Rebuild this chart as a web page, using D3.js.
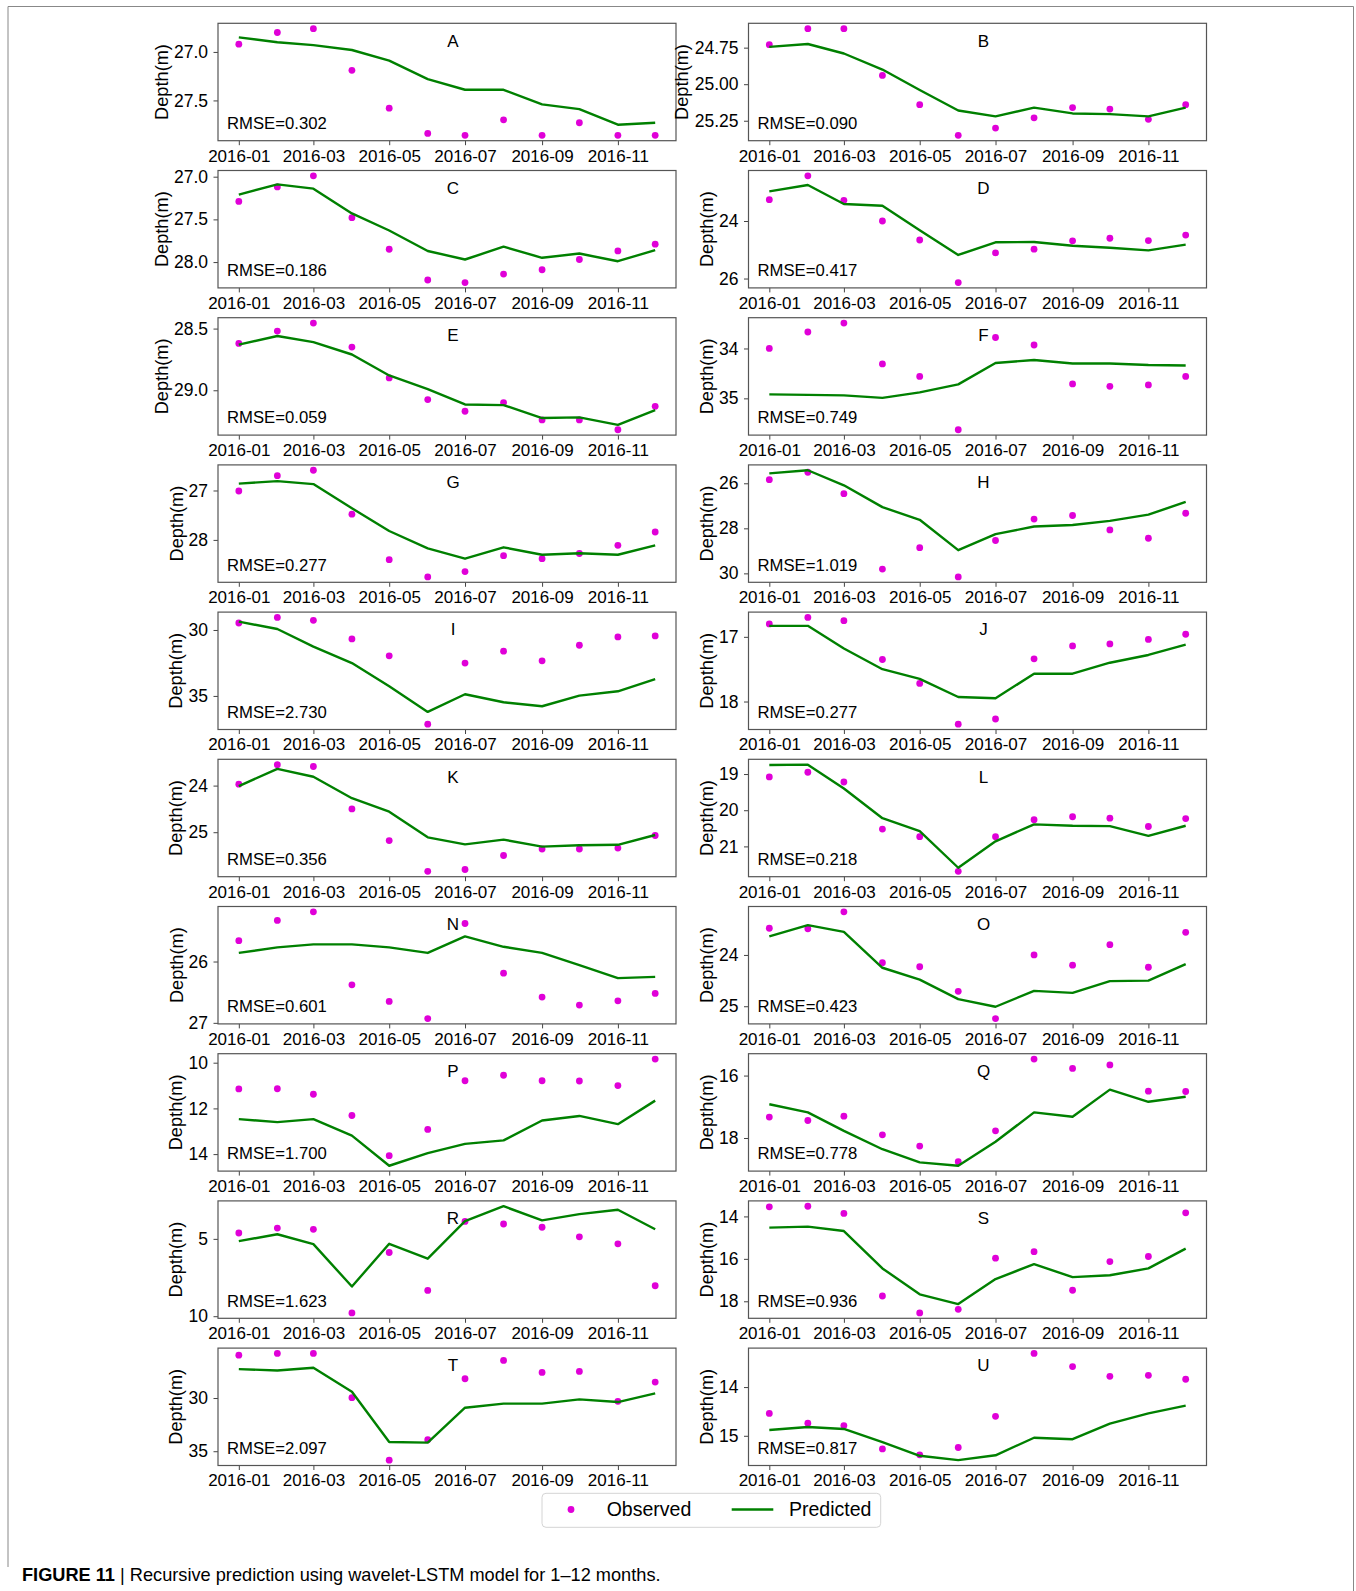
<!DOCTYPE html>
<html>
<head>
<meta charset="utf-8">
<script src="https://cdn.jsdelivr.net/npm/d3@7"></script>
<style>
  body { margin: 0; background: #fff; }
  text { font-family: "Liberation Sans", Arial, sans-serif; }
</style>
</head>
<body>
<svg id="chart" width="1356" height="1591"></svg>
<script>
// months of 2016, one observed/predicted value per month
const months = ["2016-01","2016-02","2016-03","2016-04","2016-05","2016-06",
                "2016-07","2016-08","2016-09","2016-10","2016-11","2016-12"];
const xTickLabels = ["2016-01","2016-03","2016-05","2016-07","2016-09","2016-11"];

const obsA = [26.92, 26.80, 26.76, 27.19, 27.58, 27.84, 27.86, 27.70, 27.86, 27.73, 27.86, 27.86];
const preA = [26.85, 26.90, 26.93, 26.98, 27.09, 27.28, 27.39, 27.39, 27.54, 27.59, 27.75, 27.73];
const ticksA = ["27.0", "27.5"];

const obsB = [24.73, 24.62, 24.62, 24.94, 25.14, 25.35, 25.30, 25.23, 25.16, 25.17, 25.24, 25.14];
const preB = [24.745, 24.725, 24.79, 24.90, 25.04, 25.18, 25.22, 25.16, 25.20, 25.205, 25.22, 25.16];
const ticksB = ["24.75", "25.00", "25.25"];

const obsC = [27.29, 27.12, 26.99, 27.48, 27.85, 28.21, 28.24, 28.14, 28.09, 27.97, 27.87, 27.79];
const preC = [27.21, 27.09, 27.14, 27.43, 27.63, 27.87, 27.97, 27.82, 27.95, 27.90, 27.99, 27.86];
const ticksC = ["27.0", "27.5", "28.0"];

const obsD = [23.26, 22.43, 23.28, 24.00, 24.66, 26.14, 25.11, 24.98, 24.69, 24.60, 24.68, 24.49];
const preD = [22.97, 22.75, 23.41, 23.47, 24.32, 25.18, 24.74, 24.73, 24.86, 24.93, 25.02, 24.82];
const ticksD = ["24", "26"];

const obsE = [28.62, 28.52, 28.455, 28.65, 28.90, 29.075, 29.17, 29.10, 29.24, 29.24, 29.32, 29.13];
const preE = [28.63, 28.56, 28.61, 28.71, 28.88, 28.99, 29.115, 29.12, 29.225, 29.22, 29.28, 29.16];
const ticksE = ["28.5", "29.0"];

const obsF = [34.00, 33.67, 33.49, 34.31, 34.56, 35.63, 33.78, 33.93, 34.71, 34.76, 34.73, 34.56];
const preF = [34.92, 34.93, 34.94, 34.99, 34.88, 34.72, 34.29, 34.23, 34.30, 34.30, 34.33, 34.34];
const ticksF = ["34", "35"];

const obsG = [27.01, 26.70, 26.59, 27.48, 28.40, 28.75, 28.64, 28.32, 28.38, 28.275, 28.11, 27.84];
const preG = [26.86, 26.81, 26.87, 27.36, 27.82, 28.17, 28.38, 28.15, 28.30, 28.27, 28.30, 28.11];
const ticksG = ["27", "28"];

const obsH = [25.84, 25.51, 26.46, 29.81, 28.86, 30.16, 28.54, 27.59, 27.43, 28.07, 28.44, 27.33];
const preH = [25.56, 25.42, 26.09, 27.06, 27.62, 28.97, 28.26, 27.92, 27.85, 27.67, 27.39, 26.83];
const ticksH = ["26", "28", "30"];

const obsI = [29.47, 29.05, 29.27, 30.68, 31.96, 37.14, 32.51, 31.61, 32.34, 31.16, 30.53, 30.45];
const preI = [29.37, 29.93, 31.26, 32.51, 34.27, 36.21, 34.87, 35.48, 35.78, 34.98, 34.65, 33.72];
const ticksI = ["30", "35"];

const obsJ = [16.80, 16.70, 16.75, 17.35, 17.72, 18.35, 18.27, 17.34, 17.14, 17.11, 17.04, 16.96];
const preJ = [16.83, 16.83, 17.18, 17.50, 17.65, 17.93, 17.95, 17.57, 17.57, 17.40, 17.28, 17.12];
const ticksJ = ["17", "18"];

const obsK = [23.97, 23.55, 23.59, 24.50, 25.18, 25.84, 25.80, 25.50, 25.36, 25.36, 25.34, 25.07];
const preK = [24.01, 23.64, 23.81, 24.27, 24.56, 25.11, 25.26, 25.16, 25.31, 25.28, 25.27, 25.06];
const ticksK = ["24", "25"];

const obsL = [19.08, 18.95, 19.22, 20.52, 20.73, 21.69, 20.73, 20.26, 20.18, 20.22, 20.45, 20.23];
const preL = [18.75, 18.74, 19.40, 20.22, 20.58, 21.59, 20.86, 20.39, 20.43, 20.44, 20.71, 20.43];
const ticksL = ["19", "20", "21"];

const obsN = [25.66, 25.33, 25.19, 26.38, 26.65, 26.93, 25.38, 26.19, 26.58, 26.71, 26.64, 26.52];
const preN = [25.86, 25.77, 25.72, 25.72, 25.77, 25.86, 25.59, 25.76, 25.86, 26.06, 26.27, 26.25];
const ticksN = ["26", "27"];

const obsO = [23.48, 23.49, 23.16, 24.15, 24.23, 24.71, 25.24, 24.00, 24.20, 23.80, 24.24, 23.56];
const preO = [23.64, 23.42, 23.55, 24.25, 24.48, 24.86, 25.01, 24.70, 24.74, 24.51, 24.50, 24.18];
const ticksO = ["24", "25"];

const obsP = [11.15, 11.14, 11.38, 12.31, 14.07, 12.92, 10.79, 10.55, 10.79, 10.80, 11.00, 9.84];
const preP = [12.47, 12.60, 12.47, 13.19, 14.51, 13.96, 13.55, 13.40, 12.53, 12.33, 12.69, 11.66];
const ticksP = ["10", "12", "14"];

const obsQ = [17.33, 17.44, 17.30, 17.90, 18.26, 18.76, 17.77, 15.47, 15.77, 15.66, 16.50, 16.51];
const preQ = [16.92, 17.18, 17.77, 18.36, 18.78, 18.89, 18.12, 17.18, 17.32, 16.45, 16.84, 16.68];
const ticksQ = ["16", "18"];

const obsR = [4.62, 4.30, 4.38, 9.79, 5.88, 8.33, 3.87, 4.04, 4.25, 4.87, 5.32, 8.03];
const preR = [5.15, 4.70, 5.34, 8.08, 5.32, 6.28, 3.85, 2.89, 3.80, 3.40, 3.12, 4.38];
const ticksR = ["5", "10"];

const obsS = [13.55, 13.52, 13.86, 17.75, 18.55, 18.38, 15.97, 15.66, 17.48, 16.13, 15.89, 13.83];
const preS = [14.53, 14.48, 14.69, 16.45, 17.67, 18.13, 16.95, 16.25, 16.86, 16.77, 16.45, 15.52];
const ticksS = ["14", "16", "18"];

const obsT = [25.97, 25.81, 25.81, 29.97, 35.84, 33.91, 28.19, 26.47, 27.59, 27.50, 30.31, 28.50];
const preT = [27.28, 27.41, 27.16, 29.41, 34.13, 34.19, 30.91, 30.53, 30.53, 30.13, 30.38, 29.56];
const ticksT = ["30", "35"];

const obsU = [14.54, 14.74, 14.79, 15.27, 15.39, 15.24, 14.60, 13.31, 13.58, 13.78, 13.76, 13.84];
const preU = [14.88, 14.82, 14.86, 15.13, 15.41, 15.50, 15.40, 15.04, 15.07, 14.75, 14.54, 14.38];
const ticksU = ["14", "15"];

const panelNames = ["A","B","C","D","E","F","G","H","I","J","K","L","N","O","P","Q","R","S","T","U"];
const rmseValues = ["0.302","0.090","0.186","0.417","0.059","0.749","0.277","1.019","2.730","0.277",
                    "0.356","0.218","0.601","0.423","1.700","0.778","1.623","0.936","2.097","0.817"];

const panels = [
  [obsA, preA, ticksA], [obsB, preB, ticksB], [obsC, preC, ticksC], [obsD, preD, ticksD],
  [obsE, preE, ticksE], [obsF, preF, ticksF], [obsG, preG, ticksG], [obsH, preH, ticksH],
  [obsI, preI, ticksI], [obsJ, preJ, ticksJ], [obsK, preK, ticksK], [obsL, preL, ticksL],
  [obsN, preN, ticksN], [obsO, preO, ticksO], [obsP, preP, ticksP], [obsQ, preQ, ticksQ],
  [obsR, preR, ticksR], [obsS, preS, ticksS], [obsT, preT, ticksT], [obsU, preU, ticksU]
].map((p, i) => ({ name: panelNames[i], obs: p[0], pre: p[1], ticks: p[2], rmse: rmseValues[i] }));

const obsColor = "#e000d8";
const preColor = "#008000";

const svg = d3.select("#chart");
const parse = d3.timeParse("%Y-%m");
const dates = months.map(parse);

// layout
const colX = [218, 748.5];
const w = 458, h = 117.4;
const rowTop = 23.3, rowStep = 147.2;

// outer frame (open at the bottom left)
svg.append("path")
  .attr("d", "M8,1567 L8,6.5 L1353.5,6.5 L1353.5,1591")
  .attr("fill", "none").attr("stroke", "#888").attr("stroke-width", 1);

const t0 = dates[0].getTime(), t1 = dates[dates.length - 1].getTime();
const tpad = (t1 - t0) * 0.05;
const x = d3.scaleTime()
  .domain([new Date(t0 - tpad), new Date(t1 + tpad)])
  .range([0, w]);

panels.forEach((p, i) => {
  const col = i % 2, row = Math.floor(i / 2);
  const g = svg.append("g")
    .attr("transform", `translate(${colX[col]},${rowTop + row * rowStep})`);

  const all = p.obs.concat(p.pre);
  const lo = d3.min(all), hi = d3.max(all);
  const pad = (hi - lo) * 0.05;
  // depth axis inverted: small values on top
  const y = d3.scaleLinear().domain([lo - pad, hi + pad]).range([0, h]);

  // x axis
  const xa = g.append("g")
    .attr("transform", `translate(0,${h})`)
    .call(d3.axisBottom(x)
      .tickValues(xTickLabels.map(parse))
      .tickFormat(d3.timeFormat("%Y-%m"))
      .tickSize(4.5).tickPadding(4.4));
  xa.select(".domain").remove();
  xa.selectAll("line").attr("stroke", "#444");
  xa.selectAll("text").attr("font-size", 17).attr("fill", "#000")
    .style("font-family", "'Liberation Sans', Arial, sans-serif");

  // y axis
  const tickVals = p.ticks.map(Number);
  const ya = g.append("g")
    .call(d3.axisLeft(y)
      .tickValues(tickVals)
      .tickFormat((d, k) => p.ticks[k])
      .tickSize(4.5).tickPadding(5.5));
  ya.select(".domain").remove();
  ya.selectAll("line").attr("stroke", "#444");
  ya.selectAll("text").attr("font-size", 17.5).attr("fill", "#000")
    .style("font-family", "'Liberation Sans', Arial, sans-serif");

  let maxW = 0;
  ya.selectAll("text").each(function () { maxW = Math.max(maxW, this.getBBox().width); });

  g.append("text")
    .attr("transform", `translate(${-10 - maxW - 6},${h / 2}) rotate(-90)`)
    .attr("text-anchor", "middle")
    .attr("font-size", 18.2)
    .text("Depth(m)");

  // observed points
  g.append("g").selectAll("circle")
    .data(p.obs)
    .join("circle")
    .attr("cx", (d, k) => x(dates[k]))
    .attr("cy", d => y(d))
    .attr("r", 3.4)
    .attr("fill", obsColor);

  // predicted line
  const line = d3.line()
    .x((d, k) => x(dates[k]))
    .y(d => y(d));
  g.append("path")
    .datum(p.pre)
    .attr("d", line)
    .attr("fill", "none")
    .attr("stroke", preColor)
    .attr("stroke-width", 2.4)
    .attr("stroke-linejoin", "round");

  // box
  g.append("rect")
    .attr("width", w).attr("height", h)
    .attr("fill", "none")
    .attr("stroke", "#555").attr("stroke-width", 1.2);

  g.append("text")
    .attr("x", 235).attr("y", 23.4)
    .attr("text-anchor", "middle")
    .attr("font-size", 17)
    .text(p.name);

  g.append("text")
    .attr("x", 9).attr("y", h - 11.7)
    .attr("font-size", 16.7)
    .text("RMSE=" + p.rmse);
});

// legend
const lg = svg.append("g");
lg.append("rect")
  .attr("x", 542).attr("y", 1493.3).attr("width", 338.7).attr("height", 34)
  .attr("rx", 4).attr("fill", "#fff").attr("stroke", "#d4d4d4");
lg.append("circle").attr("cx", 571).attr("cy", 1509.5).attr("r", 3.4).attr("fill", obsColor);
lg.append("text").attr("x", 606.7).attr("y", 1516.3).attr("font-size", 19.5).text("Observed");
lg.append("line").attr("x1", 731.7).attr("x2", 773.3).attr("y1", 1509.5).attr("y2", 1509.5)
  .attr("stroke", preColor).attr("stroke-width", 2.4);
lg.append("text").attr("x", 789).attr("y", 1516.3).attr("font-size", 19.5).text("Predicted");

// caption
const cap = svg.append("text").attr("x", 22).attr("y", 1580.5).attr("font-size", 18.2);
cap.append("tspan").attr("font-weight", "bold").text("FIGURE 11");
cap.append("tspan").text(" | Recursive prediction using wavelet-LSTM model for 1\u201312 months.");
</script>
</body>
</html>
